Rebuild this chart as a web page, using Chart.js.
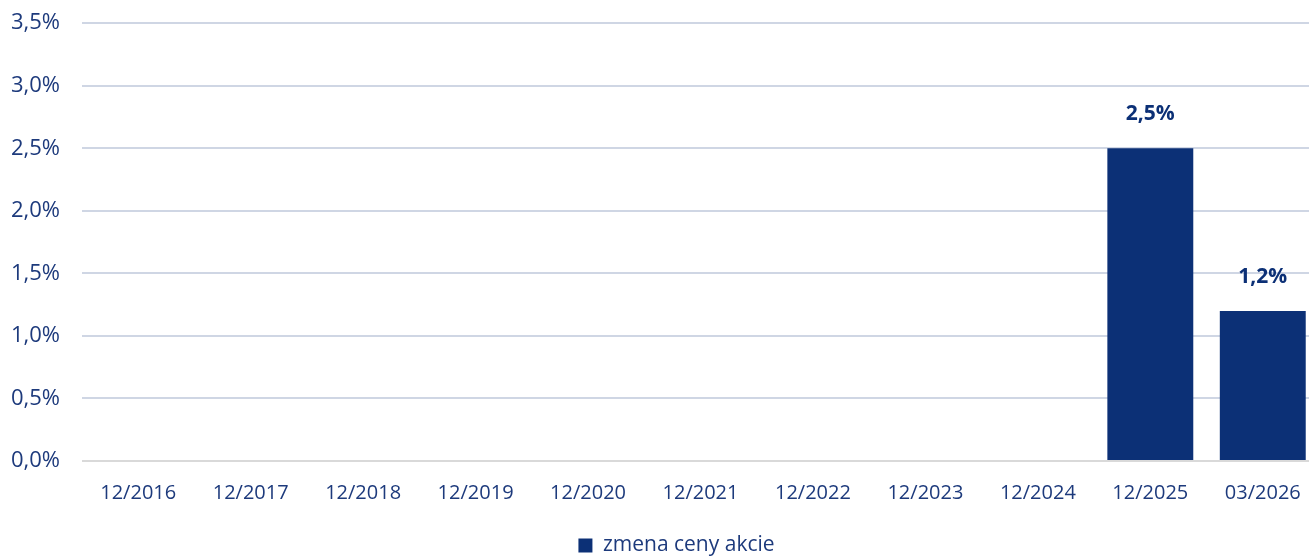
<!DOCTYPE html>
<html>
<head>
<meta charset="utf-8">
<script src="https://cdn.jsdelivr.net/npm/chart.js@4"></script>
<style>
  html, body { margin: 0; padding: 0; background: #fff; overflow: hidden; }
  #wrap { width: 1354px; height: 568px; margin-top: -12px; position: relative; }
</style>
</head>
<body>
<div id="wrap"><canvas id="chart-bar"></canvas></div>
<script>
var labels = ['12/2016', '12/2017', '12/2018', '12/2019', '12/2020', '12/2021', '12/2022', '12/2023', '12/2024', '12/2025', '03/2026'];
var zmena = [null, null, null, null, null, null, null, null, null, 2.5, 1.2];
var seriesName = 'zmena ceny akcie';

var navy = '#0c3076';
var textColor = '#1d3a7c';

function pct(v) {
    return v.toFixed(1).replace('.', ',') + '%';
}

// popisky nad stlpcami + posun legendy
var valueLabels = {
    id: 'valueLabels',
    afterLayout: function(chart) {
        if (chart.legend) {
            chart.legend.left += 12;
            chart.legend.right += 12;
        }
    },
    afterDatasetsDraw: function(chart) {
        var ctx = chart.ctx;
        var meta = chart.getDatasetMeta(0);
        ctx.save();
        ctx.font = 'bold 21px "Open Sans"';
        ctx.fillStyle = navy;
        ctx.textAlign = 'center';
        ctx.textBaseline = 'middle';
        meta.data.forEach(function(bar, i) {
            var v = zmena[i];
            if (v === null) return;
            ctx.fillText(pct(v), bar.x, bar.y - 34);
        });
        ctx.restore();
    }
};

Chart.defaults.font.family = '"Open Sans", sans-serif';
Chart.defaults.font.size = 20;
Chart.defaults.color = textColor;

const ctx = document.getElementById('chart-bar').getContext('2d');
const myChart = new Chart(ctx, {
    type: 'bar',
    data: {
        labels: labels,
        datasets: [{
            label: seriesName,
            data: zmena,
            backgroundColor: navy,
            borderWidth: 0,
            barPercentage: 0.764,
            categoryPercentage: 1
        }]
    },
    options: {
        responsive: true,
        maintainAspectRatio: false,
        animation: false,
        layout: {
            padding: { left: 10, right: 35, top: 0, bottom: -10 }
        },
        plugins: {
            legend: {
                position: 'bottom',
                labels: {
                    boxWidth: 14,
                    boxHeight: 14,
                    padding: 5,
                    font: { size: 21 }
                }
            },
            tooltip: { enabled: false }
        },
        scales: {
            x: {
                grid: { display: false, drawTicks: false },
                border: { display: false },
                afterFit: function(scale) { scale.height += 5; },
                ticks: { padding: 20, maxRotation: 0, autoSkip: false, font: { size: 20 } }
            },
            y: {
                min: 0,
                max: 3.5,
                border: { display: false },
                afterFit: function(scale) { scale.width = 72; },
                grid: {
                    drawTicks: false,
                    lineWidth: 2,
                    color: function(c) {
                        return c.tick && c.tick.value === 0 ? '#d9d9d9' : '#cfd6e4';
                    }
                },
                ticks: {
                    stepSize: 0.5,
                    padding: 22,
                    font: { size: 22 },
                    callback: function(v) { return pct(v); }
                }
            }
        }
    },
    plugins: [valueLabels]
});
</script>
</body>
</html>
